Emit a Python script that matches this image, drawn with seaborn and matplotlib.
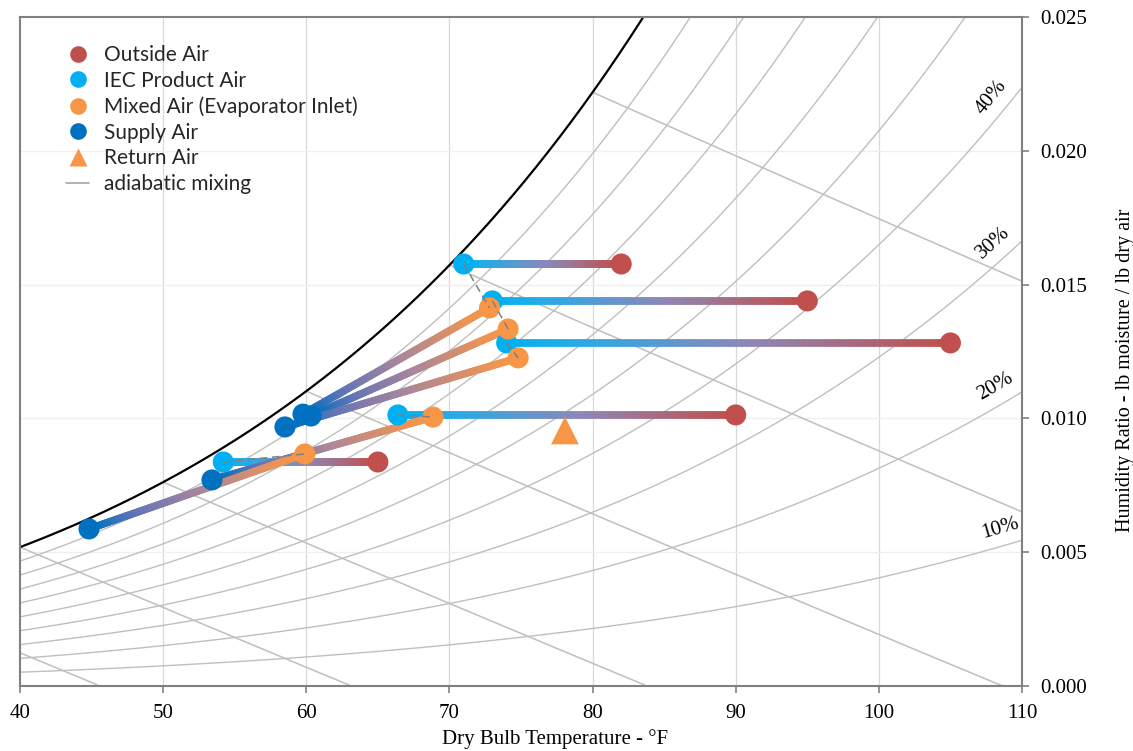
import numpy as np
import pandas as pd
import matplotlib
matplotlib.use("Agg")
import matplotlib.pyplot as plt
import seaborn as sns
from matplotlib.collections import LineCollection
from matplotlib.colors import LinearSegmentedColormap
from matplotlib.lines import Line2D

# ---------------- data ----------------
outside_T = [82.0, 95.0, 105.0, 90.0, 65.0]
outside_W = [0.01577, 0.01439, 0.01282, 0.01013, 0.00837]
iec_T = [71.0, 73.0, 74.0, 66.4, 54.2]
iec_W = [0.01577, 0.01439, 0.01282, 0.01013, 0.00837]
mixed_T = [72.8, 74.1, 74.8, 68.85, 59.9]
mixed_W = [0.01413, 0.01334, 0.01226, 0.01005, 0.00867]
supply_T = [59.77, 60.33, 58.51, 53.41, 44.82]
supply_W = [0.01016, 0.01009, 0.00968, 0.00770, 0.00587]
return_T = [78.07]
return_W = [0.00955]

rh_levels = [0.1, 0.2, 0.3, 0.4, 0.5, 0.6, 0.7, 0.8, 0.9]
rh_labels = ["10%", "20%", "30%", "40%"]
wb_temps = [30, 40, 50, 60, 70, 80]
x_ticks = [40, 50, 60, 70, 80, 90, 100, 110]
y_ticks = [0.000, 0.005, 0.010, 0.015, 0.020, 0.025]

legend_labels = ["Outside Air", "IEC Product Air", "Mixed Air (Evaporator Inlet)",
                 "Supply Air", "Return Air", "adiabatic mixing"]

C_RED = "#C0504D"
C_LBLUE = "#00B0F0"
C_ORANGE = "#F79646"
C_DBLUE = "#0070C0"
C_GRAY = "#BFBFBF"

P_ATM = 14.696


def pws(T_F):
    Tc = (np.asarray(T_F) - 32.0) / 1.8
    return 610.94 * np.exp(17.625 * Tc / (Tc + 243.04)) / 6894.757


def w_rh(T_F, rh):
    pw = rh * pws(T_F)
    return 0.621945 * pw / (P_ATM - pw)


def w_wetbulb(T_F, twb):
    ws = w_rh(twb, 1.0)
    return ((1093 - 0.556 * twb) * ws - 0.24 * (T_F - twb)) / (1093 + 0.444 * T_F - twb)


# ---------------- figure ----------------
sns.set_theme(style="white")
plt.rcParams["font.family"] = ["Liberation Serif", "DejaVu Serif"]

fig = plt.figure(figsize=(11.33, 7.51), dpi=100)
ax = fig.add_axes([20 / 1133, 1 - 686 / 751, (1022 - 20) / 1133, (686 - 17) / 751])
ax.set_xlim(40, 110)
ax.set_ylim(0, 0.025)

# grid
for xv in x_ticks[1:-1]:
    ax.axvline(xv, color="#D9D9D9", lw=0.9, zorder=0)
for yv in y_ticks[1:-1]:
    ax.axhline(yv, color="#EFEFEF", lw=0.9, zorder=0)

# RH curves
Tgrid = np.linspace(30, 112, 400)
for rh in rh_levels:
    sns.lineplot(x=Tgrid, y=w_rh(Tgrid, rh), color=C_GRAY, lw=1.0, ax=ax,
                 estimator=None, sort=False, zorder=1)
# saturation
sns.lineplot(x=Tgrid, y=w_rh(Tgrid, 1.0), color="black", lw=1.6, ax=ax,
             estimator=None, sort=False, zorder=2)
# wet bulb lines
for twb in wb_temps:
    tt = np.linspace(twb, 115, 200)
    ww = w_wetbulb(tt, twb)
    m = ww >= 0
    sns.lineplot(x=tt[m], y=ww[m], color=C_GRAY, lw=1.1, ax=ax,
                 estimator=None, sort=False, zorder=1)

# gradient process lines
cmap_sens = LinearSegmentedColormap.from_list(
    "sens", [(0, C_LBLUE), (0.12, "#1CAEEC"), (0.55, "#8C88B8"), (1, C_RED)])
cmap_cool = LinearSegmentedColormap.from_list(
    "cool", [(0, C_ORANGE), (0.12, "#EE9454"), (0.5, "#A9869C"), (0.8, "#6475B6"), (1, C_DBLUE)])


def gradient_line(x0, y0, x1, y1, cmap, lw=5.4, n=120, z=3):
    xs = np.linspace(x0, x1, n + 1)
    ys = np.linspace(y0, y1, n + 1)
    pts = np.column_stack([xs, ys]).reshape(-1, 1, 2)
    segs = np.concatenate([pts[:-1], pts[1:]], axis=1)
    cols = cmap(np.linspace(0, 1, n))
    lc = LineCollection(segs, colors=cols, linewidths=lw, capstyle="round", zorder=z)
    ax.add_collection(lc)


for i in range(len(outside_T)):
    gradient_line(iec_T[i], iec_W[i], outside_T[i], outside_W[i], cmap_sens)
for i in range(len(mixed_T)):
    gradient_line(mixed_T[i], mixed_W[i], supply_T[i], supply_W[i], cmap_cool)

# markers
S = 230
ax.scatter(outside_T, outside_W, s=S, color=C_RED, edgecolors="none", zorder=5)
ax.scatter(iec_T, iec_W, s=S, color=C_LBLUE, edgecolors="none", zorder=5)
ax.scatter(mixed_T, mixed_W, s=S, color=C_ORANGE, edgecolors="none", zorder=6)
ax.scatter(supply_T, supply_W, s=S, color=C_DBLUE, edgecolors="none", zorder=5)
ax.scatter(return_T, return_W, s=400, marker="^", color=C_ORANGE, edgecolors="none", zorder=5)

# adiabatic mixing (dashed)
for i in range(len(iec_T)):
    ax.plot([iec_T[i], mixed_T[i]], [iec_W[i], mixed_W[i]], color="#7F7F7F",
            lw=1.1, ls=(0, (5, 3)), zorder=7)

# RH labels
fig.canvas.draw()
for rh, lab in zip(rh_levels[:4], rh_labels):
    t0 = 108.8
    p1 = ax.transData.transform((t0 - 0.5, w_rh(t0 - 0.5, rh)))
    p2 = ax.transData.transform((t0 + 0.5, w_rh(t0 + 0.5, rh)))
    ang = np.arctan2(p2[1] - p1[1], p2[0] - p1[0])
    d = 13
    ax.annotate(lab, xy=(t0, w_rh(t0, rh)), xytext=(-np.sin(ang) * d, np.cos(ang) * d),
                textcoords="offset points", ha="center", va="center",
                rotation=np.degrees(ang), rotation_mode="anchor", fontsize=15,
                color="black", zorder=8)

# axes styling
ax.yaxis.tick_right()
ax.yaxis.set_label_position("right")
ax.set_xticks(x_ticks)
ax.set_yticks(y_ticks)
ax.set_yticklabels([f"{v:.3f}" for v in y_ticks])
ax.tick_params(axis="both", which="major", direction="out", length=5, width=1.2,
               color="#808080", labelsize=15, labelcolor="black")
ax.tick_params(axis="x", bottom=True, pad=8)
ax.tick_params(axis="y", right=True, left=False, pad=8)
for sp in ax.spines.values():
    sp.set_visible(True)
    sp.set_color("#808080")
    sp.set_linewidth(1.5)
ax.grid(False)

ax.set_xlabel("Dry Bulb Temperature - °F", fontsize=15, color="black")
ax.xaxis.set_label_coords(0.534, -0.065)
ax.set_ylabel("Humidity Ratio - lb moisture / lb dry air", fontsize=14.5, color="black",
              rotation=90)
ax.yaxis.set_label_coords(1.094, 0.472)

# legend
handles = [
    Line2D([], [], ls="none", marker="o", ms=12, color=C_RED, mec="none"),
    Line2D([], [], ls="none", marker="o", ms=12, color=C_LBLUE, mec="none"),
    Line2D([], [], ls="none", marker="o", ms=12, color=C_ORANGE, mec="none"),
    Line2D([], [], ls="none", marker="o", ms=12, color=C_DBLUE, mec="none"),
    Line2D([], [], ls="none", marker="^", ms=13, color=C_ORANGE, mec="none"),
    Line2D([], [], color="#A6A6A6", lw=1.2),
]
leg = ax.legend(handles, legend_labels, loc="upper left", bbox_to_anchor=(0.046, 0.958),
                frameon=False, borderpad=0, borderaxespad=0, handlelength=1.1,
                handletextpad=0.7, labelspacing=0.27,
                prop={"family": ["Lato", "DejaVu Sans"], "size": 15})
leg.set_zorder(10)

fig.savefig("out.png", dpi=100)
